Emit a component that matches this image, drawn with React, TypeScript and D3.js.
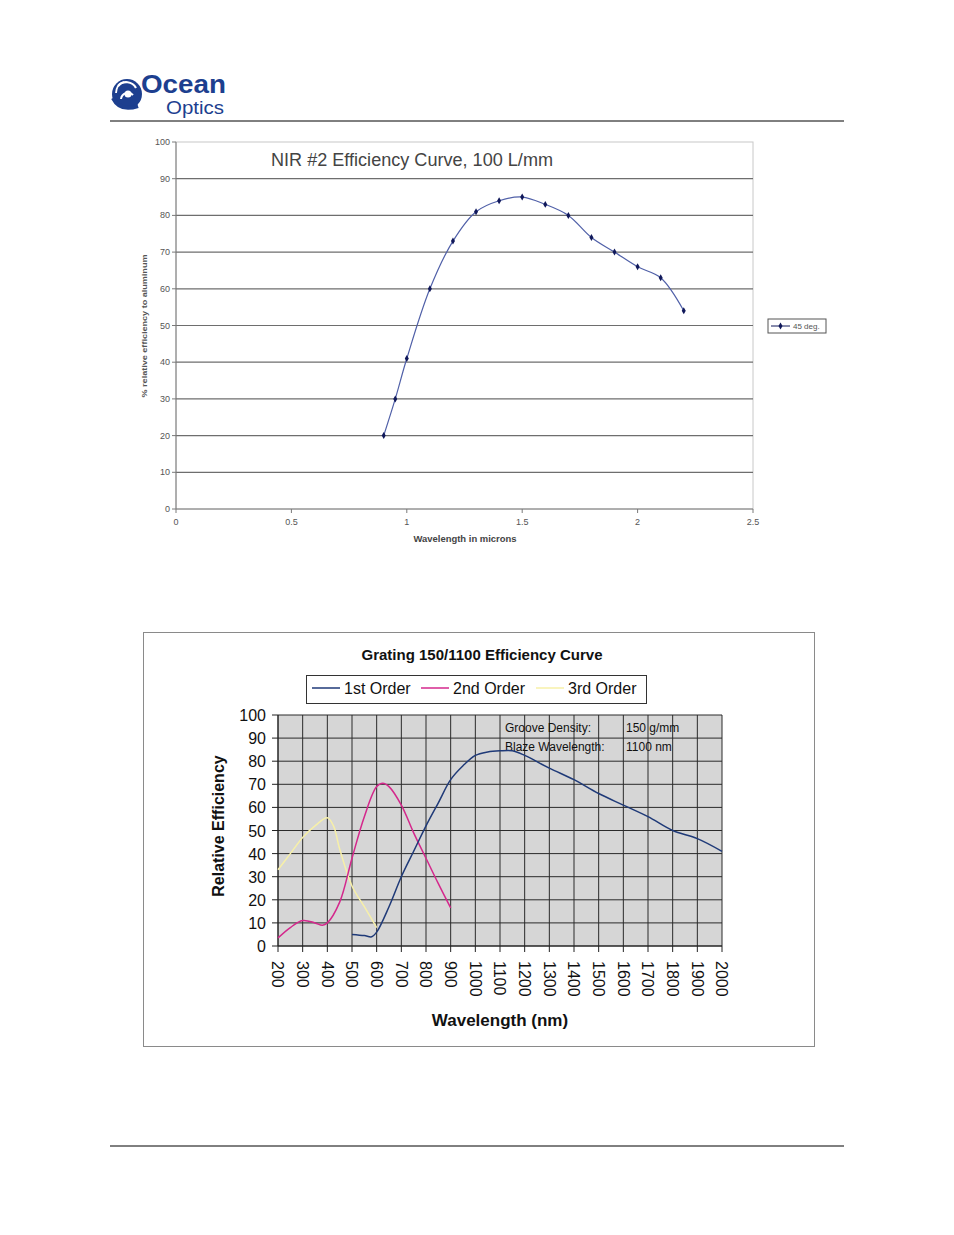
import React from "react";
import * as d3 from "d3";

// ---------- Data: NIR #2 chart ----------
const nirWavelength = [0.9, 0.95, 1.0, 1.1, 1.2, 1.3, 1.4, 1.5, 1.6, 1.7, 1.8, 1.9, 2.0, 2.1, 2.2];
const nirEfficiency = [20, 30, 41, 60, 73, 81, 84, 85, 83, 80, 74, 70, 66, 63, 54];
const nirYTicks = [0, 10, 20, 30, 40, 50, 60, 70, 80, 90, 100];
const nirXTicks = [0, 0.5, 1, 1.5, 2, 2.5];

// ---------- Data: Grating 150/1100 chart ----------
const firstOrderNm = [500, 550, 580, 600, 650, 700, 750, 800, 850, 900, 950, 1000, 1050, 1100, 1150, 1200, 1300, 1400, 1500, 1600, 1700, 1800, 1900, 2000];
const firstOrderEff = [5, 4.5, 4, 6, 17, 30, 41, 52, 62, 72, 78, 82.5, 84, 84.5, 84.5, 82.5, 77, 72, 66, 61, 56, 50, 46.5, 41];
const secondOrderNm = [200, 250, 300, 350, 380, 400, 450, 500, 550, 600, 625, 650, 700, 750, 800, 850, 900];
const secondOrderEff = [3.5, 8, 11, 10, 9, 10, 19, 38, 56, 69, 70.5, 69, 61, 49, 38, 27, 16.5];
const thirdOrderNm = [200, 250, 300, 350, 400, 425, 450, 500, 550, 600];
const thirdOrderEff = [33, 40, 47, 52, 55.5, 52, 42, 26, 17, 8];
const gratingXTicks = [200, 300, 400, 500, 600, 700, 800, 900, 1000, 1100, 1200, 1300, 1400, 1500, 1600, 1700, 1800, 1900, 2000];
const gratingYTicks = [0, 10, 20, 30, 40, 50, 60, 70, 80, 90, 100];
const seriesNames = ["1st Order", "2nd Order", "3rd Order"];
const seriesColors = ["#1f3a78", "#d4288c", "#f7f0a8"];

const FONT = "'Liberation Sans', Arial, sans-serif";

function Logo() {
  return (
    <g>
      <circle cx={127} cy={94} r={15} fill="#1d3f8f" />
      <path d="M118,86 A11,11 0 0 1 136,88" stroke="#fff" strokeWidth={2.2} fill="none" />
      <path d="M116,93 A12,12 0 0 1 124,82" stroke="#fff" strokeWidth={1.8} fill="none" />
      <path d="M121,99 A7,7 0 0 1 133,95" stroke="#fff" strokeWidth={2} fill="none" />
      <circle cx={128} cy={94} r={3.5} fill="#fff" />
      <path d="M113,98 Q120,112 138,106" stroke="#1d3f8f" strokeWidth={4} fill="none" />
      <text x={141} y={93} fontFamily={FONT} fontWeight="bold" fontSize={25} fill="#1d3f8f" textLength={85} lengthAdjust="spacingAndGlyphs">Ocean</text>
      <text x={166} y={114} fontFamily={FONT} fontSize={18.5} fill="#1d3f8f" textLength={58} lengthAdjust="spacingAndGlyphs">Optics</text>
    </g>
  );
}

function NirChart() {
  const x = d3.scaleLinear().domain([0, 2.5]).range([176, 753]);
  const y = d3.scaleLinear().domain([0, 100]).range([509, 142]);
  const pts = nirWavelength.map((w, i) => [x(w), y(nirEfficiency[i])] as [number, number]);
  const line = d3.line().curve(d3.curveCatmullRom.alpha(0.5))(pts) || "";
  const diamond = d3.symbol().type(d3.symbolDiamond).size(14)() || "";
  return (
    <g fontFamily={FONT}>
      <rect x={176} y={142} width={577} height={367} fill="#fff" stroke="#c8c8c8" strokeWidth={1} />
      {nirYTicks.filter(t => t > 0 && t < 100).map(t => (
        <line key={t} x1={176} x2={753} y1={y(t)} y2={y(t)} stroke="#6e6e6e" strokeWidth={1.2} />
      ))}
      <line x1={176} x2={176} y1={142} y2={509} stroke="#7a7a7a" strokeWidth={1} />
      <line x1={176} x2={753} y1={509} y2={509} stroke="#7a7a7a" strokeWidth={1} />
      {nirYTicks.map(t => (
        <g key={t}>
          <line x1={172} x2={176} y1={y(t)} y2={y(t)} stroke="#7a7a7a" />
          <text x={170} y={y(t) + 3} textAnchor="end" fontSize={9} fill="#555">{t}</text>
        </g>
      ))}
      {nirXTicks.map(t => (
        <g key={t}>
          <line x1={x(t)} x2={x(t)} y1={509} y2={513} stroke="#7a7a7a" />
          <text x={x(t)} y={525} textAnchor="middle" fontSize={9} fill="#555">{t}</text>
        </g>
      ))}
      <text x={271} y={166} fontSize={18} fill="#444" textLength={282} lengthAdjust="spacingAndGlyphs">NIR #2 Efficiency Curve, 100 L/mm</text>
      <text transform="translate(147,326) rotate(-90)" textAnchor="middle" fontSize={8} fontWeight="bold" fill="#555" textLength={143} lengthAdjust="spacingAndGlyphs">% relative efficiency to aluminum</text>
      <text x={465} y={542} textAnchor="middle" fontSize={8.5} fontWeight="bold" fill="#444" textLength={103} lengthAdjust="spacingAndGlyphs">Wavelength in microns</text>
      <path d={line} fill="none" stroke="#5060a8" strokeWidth={1.2} />
      {pts.map((p, i) => (
        <path key={i} d={diamond} transform={`translate(${p[0]},${p[1]})`} fill="#10185a" />
      ))}
      <rect x={768} y={319} width={58} height={14} fill="#fff" stroke="#555" strokeWidth={1} />
      <line x1={771} x2={790} y1={326} y2={326} stroke="#10185a" strokeWidth={1} />
      <path d={diamond} transform="translate(780.5,326)" fill="#10185a" />
      <text x={793} y={329} fontSize={8} fill="#555">45 deg.</text>
    </g>
  );
}

function GratingChart() {
  const x = d3.scaleLinear().domain([200, 2000]).range([278, 722]);
  const y = d3.scaleLinear().domain([0, 100]).range([946, 715]);
  const mk = (xs: number[], ys: number[]) =>
    d3.line().curve(d3.curveCatmullRom.alpha(0.5))(xs.map((v, i) => [x(v), y(ys[i])] as [number, number])) || "";
  const series = [
    { xs: thirdOrderNm, ys: thirdOrderEff, color: seriesColors[2] },
    { xs: secondOrderNm, ys: secondOrderEff, color: seriesColors[1] },
    { xs: firstOrderNm, ys: firstOrderEff, color: seriesColors[0] },
  ];
  const legendX = [312, 421, 536];
  return (
    <g fontFamily={FONT}>
      <rect x={143.5} y={632.5} width={671} height={414} fill="#fff" stroke="#8a8a8a" strokeWidth={1} />
      <text x={482} y={660} textAnchor="middle" fontSize={15} fontWeight="bold" fill="#111">Grating 150/1100 Efficiency Curve</text>
      <rect x={306.5} y={675.5} width={340} height={28} fill="#fff" stroke="#333" strokeWidth={1} />
      {seriesNames.map((n, i) => (
        <g key={n}>
          <line x1={legendX[i]} x2={legendX[i] + 28} y1={688} y2={688} stroke={seriesColors[i]} strokeWidth={1.5} />
          <text x={legendX[i] + 32} y={694} fontSize={16} fill="#111">{n}</text>
        </g>
      ))}
      <rect x={278} y={715} width={444} height={231} fill="#d6d6d6" />
      {gratingXTicks.map(t => (
        <line key={"gx" + t} x1={x(t)} x2={x(t)} y1={715} y2={946} stroke="#2a2a2a" strokeWidth={1} />
      ))}
      {gratingYTicks.map(t => (
        <line key={"gy" + t} x1={278} x2={722} y1={y(t)} y2={y(t)} stroke="#2a2a2a" strokeWidth={1} />
      ))}
      <line x1={278} x2={278} y1={715} y2={946} stroke="#222" />
      <line x1={278} x2={722} y1={946} y2={946} stroke="#222" />
      {gratingYTicks.map(t => (
        <g key={"ty" + t}>
          <line x1={272} x2={278} y1={y(t)} y2={y(t)} stroke="#222" />
          <text x={266} y={y(t) + 6} textAnchor="end" fontSize={16} fill="#111">{t}</text>
        </g>
      ))}
      {gratingXTicks.map(t => (
        <g key={"tx" + t}>
          <line x1={x(t)} x2={x(t)} y1={946} y2={952} stroke="#222" />
          <text transform={`translate(${x(t)},961) rotate(90)`} dy="0.35em" fontSize={16} fill="#111">{t}</text>
        </g>
      ))}
      <text x={500} y={1026} textAnchor="middle" fontSize={17} fontWeight="bold" fill="#111">Wavelength (nm)</text>
      <text transform="translate(224,826) rotate(-90)" textAnchor="middle" fontSize={16} fontWeight="bold" fill="#111">Relative Efficiency</text>
      <text x={505} y={732} fontSize={12} fill="#111">Groove Density:</text>
      <text x={626} y={732} fontSize={12} fill="#111">150 g/mm</text>
      <text x={505} y={751} fontSize={12} fill="#111">Blaze Wavelength:</text>
      <text x={626} y={751} fontSize={12} fill="#111">1100 nm</text>
      {series.map((s, i) => (
        <path key={i} d={mk(s.xs, s.ys)} fill="none" stroke={s.color} strokeWidth={1.5} />
      ))}
    </g>
  );
}

export default function App() {
  return (
    <svg width={954} height={1235} style={{ position: "absolute", left: 0, top: 0, background: "#fff" }}>
      <rect x={0} y={0} width={954} height={1235} fill="#fff" />
      <Logo />
      <line x1={110} x2={844} y1={121} y2={121} stroke="#000" strokeWidth={1} />
      <NirChart />
      <GratingChart />
      <line x1={110} x2={844} y1={1146} y2={1146} stroke="#000" strokeWidth={1} />
    </svg>
  );
}
